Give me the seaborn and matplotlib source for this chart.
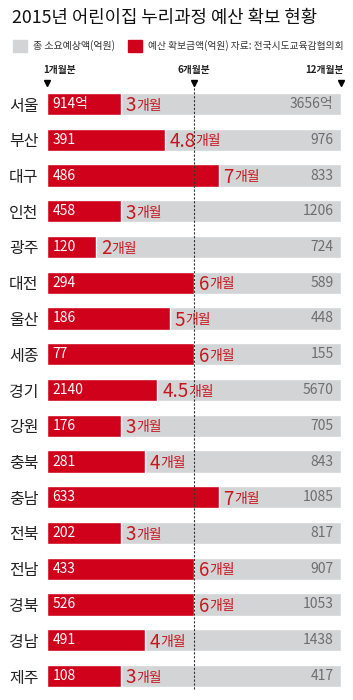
import numpy as np
import pandas as pd
import matplotlib
matplotlib.use('Agg')
import matplotlib.pyplot as plt
import seaborn as sns

# 데이터
regions = ['서울', '부산', '대구', '인천', '광주', '대전', '울산', '세종', '경기',
           '강원', '충북', '충남', '전북', '전남', '경북', '경남', '제주']
secured = [914, 391, 486, 458, 120, 294, 186, 77, 2140, 176, 281, 633, 202, 433, 526, 491, 108]
total = [3656, 976, 833, 1206, 724, 589, 448, 155, 5670, 705, 843, 1085, 817, 907, 1053, 1438, 417]
months = [3, 4.8, 7, 3, 2, 6, 5, 6, 4.5, 3, 4, 7, 3, 6, 6, 4, 3]
full_year = [12] * len(regions)
top_marks = [(0, '1개월분', 'left'), (6, '6개월분', 'center'), (12, '12개월분', 'right')]

RED = '#d0021b'
RED_TXT = '#c8161e'
GRAY = '#d3d4d6'

sns.set_style('white')
plt.rcParams['font.family'] = ['Noto Sans CJK KR', 'DejaVu Sans']

df = pd.DataFrame({'region': regions, 'secured': secured, 'total': total,
                   'months': months, 'full': full_year})

W, H = 353, 700
fig = plt.figure(figsize=(W / 100, H / 100), dpi=100)
row0, step = 104, 35.75
top_px = row0 - step / 2
bot_px = row0 + step * 16 + step / 2
ax = fig.add_axes([47 / W, 1 - bot_px / H, (341 - 47) / W, (bot_px - top_px) / H])

sns.barplot(data=df, x='full', y='region', color=GRAY, width=0.62, orient='h',
            ax=ax, saturation=1)
sns.barplot(data=df, x='months', y='region', color=RED, width=0.62, orient='h',
            ax=ax, saturation=1)

ax.set_xlim(0, 12)
ax.set_ylim(16.5, -0.5)
sns.despine(ax=ax, left=True, bottom=True)
ax.set_xticks([])
ax.set_xlabel('')
ax.set_ylabel('')
ax.tick_params(axis='y', length=0, pad=6, labelsize=11.5, labelcolor='#222222')

# 6개월 점선
ax.plot([6, 6], [-0.55, 16.35], color='#333333', lw=0.8, ls=(0, (2, 1.5)),
        clip_on=False, zorder=1)

for i, r in df.iterrows():
    s = f'{r.secured}억' if i == 0 else f'{r.secured}'
    ax.text(0.22, i, s, color='white', fontsize=10, va='center', ha='left')
    t_total = f'{r.total}억' if i == 0 else f'{r.total}'
    ax.text(11.7, i, t_total, color='#6d6e71', fontsize=10, va='center', ha='right')
    m = r.months
    t = ax.text(m + 0.2, i + 0.05, f'{m:g}', color=RED_TXT, fontsize=13.5, va='center',
                ha='left')
    ax.annotate('개월', xy=(1, 0.17), xycoords=t, color=RED_TXT, fontsize=10,
                va='bottom', ha='left')

# 상단 표시
for x, lab, ha in top_marks:
    ax.plot([x], [-0.58], marker='v', color='black', markersize=4.5, clip_on=False)
    tx = x - 0.15 if ha == 'left' else (x + 0.1 if ha == 'right' else x)
    ax.text(tx, -0.95, lab, fontsize=7, fontweight='bold', ha=ha, va='center',
            color='#222222')

# 제목과 범례
fig.text(12 / W, 1 - 18 / H, '2015년 어린이집 누리과정 예산 확보 현황', fontsize=12.8,
         va='center', ha='left', color='#111111', fontweight='medium')
fig.patches.append(plt.Rectangle((13 / W, 1 - 52 / H), 14 / W, 12 / H, color=GRAY,
                                 transform=fig.transFigure))
fig.text(33 / W, 1 - 46 / H, '총 소요예상액(억원)', fontsize=7.2, va='center', ha='left',
         color='#333333')
fig.patches.append(plt.Rectangle((128 / W, 1 - 52 / H), 14 / W, 12 / H, color=RED,
                                 transform=fig.transFigure))
fig.text(148 / W, 1 - 46 / H, '예산 확보금액(억원) 자료: 전국시도교육감협의회', fontsize=7,
         va='center', ha='left', color='#333333')

fig.savefig('out.png', dpi=100)
